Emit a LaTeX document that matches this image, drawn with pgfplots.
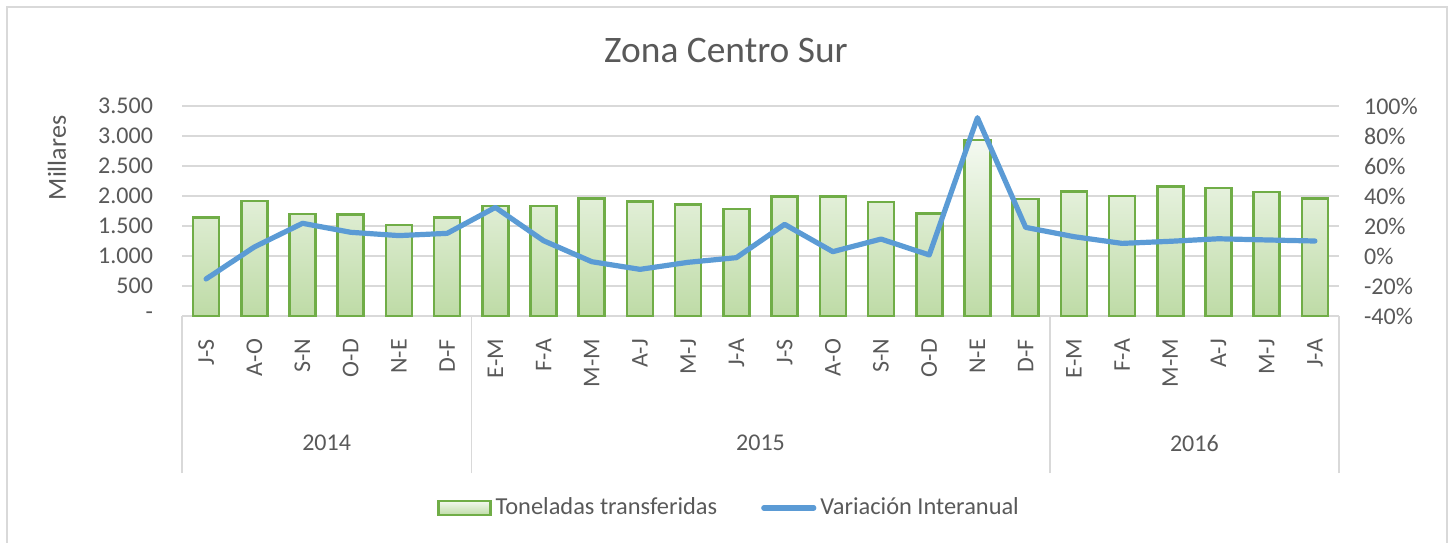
\documentclass[border=0pt]{standalone}
\usepackage{pgfplots}
\pgfplotsset{compat=1.18}
\usepackage{fontspec}
\setmainfont{Carlito}
\definecolor{textgray}{HTML}{595959}
\definecolor{gridgray}{HTML}{D9D9D9}
\definecolor{barEdge}{HTML}{70AD47}
\definecolor{barTop}{HTML}{F4F9F1}
\definecolor{barBot}{HTML}{BEDBA6}
\definecolor{lineBlue}{HTML}{5B9BD5}
\begin{document}
\begin{tikzpicture}
\useasboundingbox (0,0) rectangle (725pt,271pt);
\draw[gridgray, line width=1pt] (3.5pt,-2pt) -- (3.5pt,267.5pt) -- (723.5pt,267.5pt) -- (723.5pt,-2pt);
\node[font=\fontsize{18.7}{22}\selectfont, text=textgray] at (363pt,245.5pt) {Zona Centro Sur};
\node[rotate=90, font=\fontsize{13}{15}\selectfont, text=textgray] at (28.5pt,192pt) {Millares};
\begin{axis}[
  at={(91pt,113pt)}, anchor=south west,
  scale only axis, width=578.5pt, height=105pt,
  xmin=-0.5, xmax=23.5, ymin=0, ymax=3500,
  axis x line*=bottom, axis y line*=left,
  x axis line style={draw=gridgray, line width=0.75pt},
  y axis line style={draw=none},
  xtick={0,...,23},
  xticklabels={J-S,A-O,S-N,O-D,N-E,D-F,E-M,F-A,M-M,A-J,M-J,J-A,J-S,A-O,S-N,O-D,N-E,D-F,E-M,F-A,M-M,A-J,M-J,J-A},
  xticklabel style={rotate=90, anchor=east},
  xticklabel shift=8pt,
  ytick={0,500,...,3500},
  yticklabels={{-\hspace{6pt}},500,1.000,1.500,2.000,2.500,3.000,3.500},
  yticklabel shift=11pt,
  major tick length=0pt,
  ymajorgrids, major grid style={draw=gridgray, line width=0.75pt},
  tick label style={font=\fontsize{12}{14}\selectfont, text=textgray},
  /pgf/number format/assume math mode=true,
  extra x ticks={-0.5,5.5,17.5,23.5},
  extra x tick labels={},
  extra x tick style={major tick length=78.5pt, tick align=outside, tick style={draw=gridgray, line width=0.75pt}, grid=none},
  clip=false,
]
\addplot[ybar, bar width=13pt, draw=barEdge, line width=1.3pt, top color=barTop, bottom color=barBot] coordinates {
(0,1640) (1,1920) (2,1700) (3,1695) (4,1520) (5,1640)
(6,1835) (7,1835) (8,1955) (9,1905) (10,1860) (11,1785)
(12,1990) (13,1990) (14,1900) (15,1710) (16,2935) (17,1950)
(18,2080) (19,2000) (20,2160) (21,2135) (22,2065) (23,1960)};
\node[font=\fontsize{12}{14}\selectfont, text=textgray] at (axis cs:2.5,0) [yshift=-63.5pt] {2014};
\node[font=\fontsize{12}{14}\selectfont, text=textgray] at (axis cs:11.5,0) [yshift=-63.5pt] {2015};
\node[font=\fontsize{12}{14}\selectfont, text=textgray] at (axis cs:20.5,0) [yshift=-63.5pt] {2016};
\end{axis}
\begin{axis}[
  at={(91pt,113pt)}, anchor=south west,
  scale only axis, width=578.5pt, height=105pt,
  xmin=-0.5, xmax=23.5, ymin=-40, ymax=100,
  hide x axis,
  axis y line*=right,
  y axis line style={draw=none},
  ytick={-40,-20,...,100},
  yticklabels={-40\%,-20\%,0\%,20\%,40\%,60\%,80\%,100\%},
  yticklabel style={anchor=west},
  yticklabel shift=9pt,
  major tick length=0pt,
  tick label style={font=\fontsize{12}{14}\selectfont, text=textgray},
  /pgf/number format/assume math mode=true,
  clip=false,
  legend columns=2,
  legend style={at={(0.4737,-0.914)}, anchor=center, draw=none, fill=none,
    font=\fontsize{12.2}{14}\selectfont, text=textgray,
    /tikz/every even column/.append style={column sep=20pt},
    inner xsep=0pt, inner ysep=0pt},
]
\addlegendimage{legend image code/.code={\draw[draw=barEdge, line width=1.2pt, top color=barTop, bottom color=barBot] (0pt,-3.6pt) rectangle (26pt,3.6pt);}}
\addlegendentry{Toneladas transferidas}
\addplot[lineBlue, line width=2.6pt, line join=round, line cap=round, mark=none,
  legend image code/.code={\draw[lineBlue, line width=2.6pt, line cap=round] (0pt,0pt) -- (25pt,0pt);}] coordinates {
(0,-15.3) (1,6) (2,21.8) (3,15.8) (4,13.6) (5,15.1)
(6,32.4) (7,10.2) (8,-3.8) (9,-8.9) (10,-4.2) (11,-1.1)
(12,21.1) (13,2.9) (14,11.3) (15,0.7) (16,92.2) (17,19.1)
(18,12.9) (19,8.4) (20,9.8) (21,11.5) (22,10.7) (23,10.0)};
\addlegendentry{Variación Interanual}
\end{axis}
\end{tikzpicture}
\end{document}
